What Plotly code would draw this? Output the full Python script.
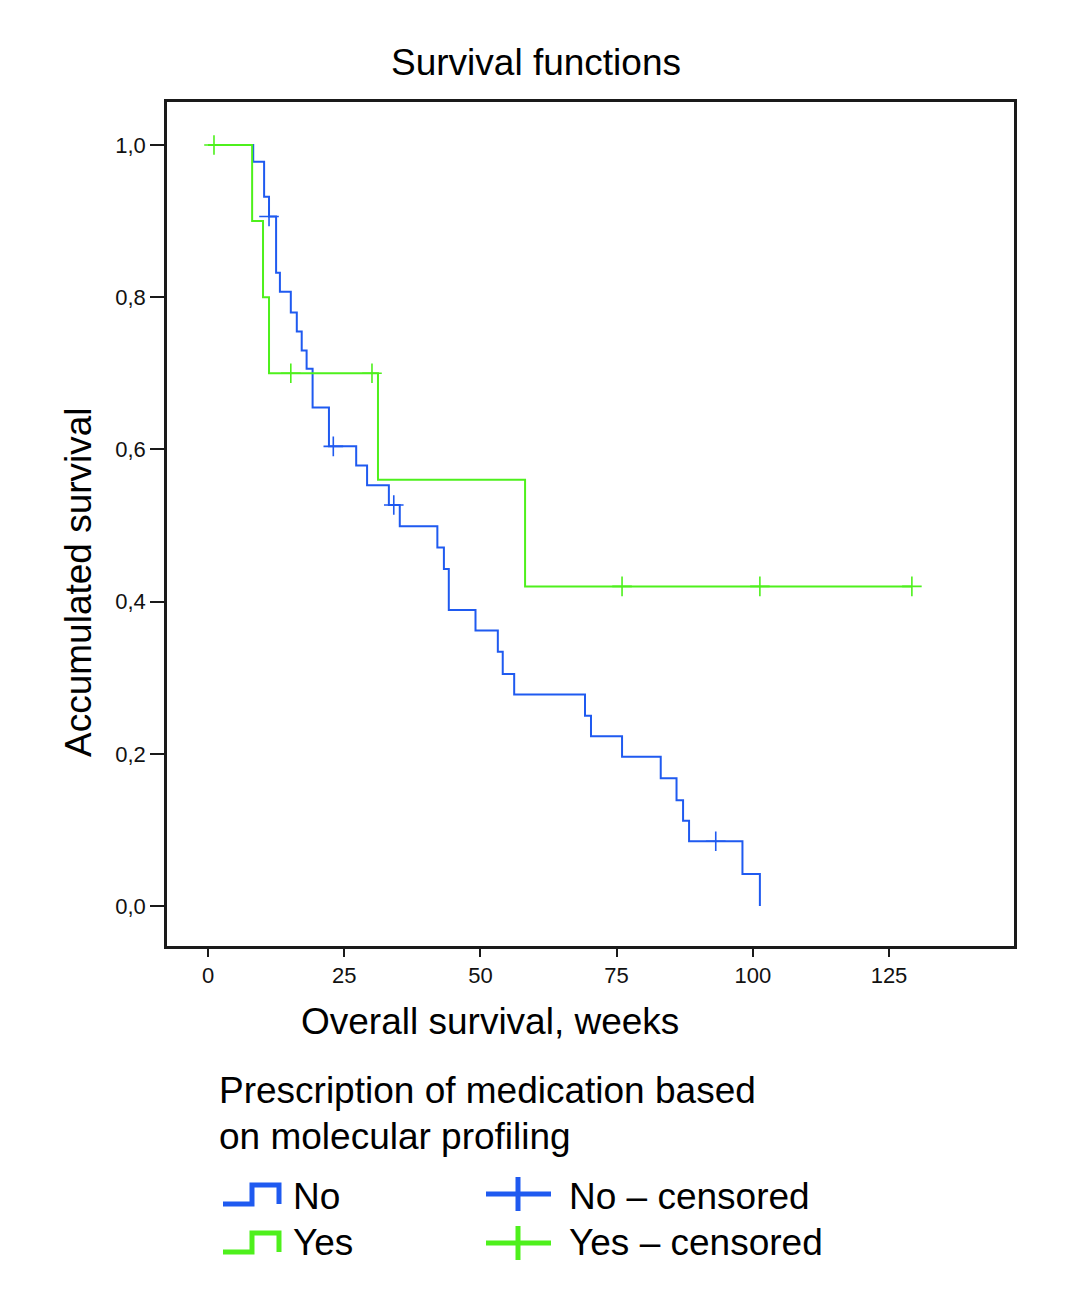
import plotly.graph_objects as go

# ---------------- data ----------------
no_time = [0, 8.3, 10.3, 11.2, 12.5, 13.2, 15.2, 16.3, 17.2, 18.1, 19.2, 22.2, 27.2, 29.2,
           33.2, 35.2, 42.1, 43.3, 44.2, 49.1, 53.2, 54.1, 56.2, 69.2, 70.3, 76.0, 83.1,
           86.0, 87.2, 88.3, 98.1, 101.3]
no_surv = [1.0, 0.978, 0.932, 0.906, 0.832, 0.807, 0.780, 0.755, 0.730, 0.706, 0.655, 0.604,
           0.579, 0.553, 0.527, 0.499, 0.471, 0.443, 0.389, 0.362, 0.334, 0.305, 0.278, 0.250,
           0.223, 0.196, 0.168, 0.139, 0.112, 0.085, 0.042, 0.0]
no_cens_time = [11.2, 23.0, 34.1, 93.2]
no_cens_surv = [0.906, 0.604, 0.527, 0.085]

yes_time = [0, 8.1, 10.1, 11.2, 31.2, 58.2, 129.2]
yes_surv = [1.0, 0.9, 0.8, 0.7, 0.56, 0.42, 0.42]
yes_cens_time = [1.1, 15.2, 30.1, 76.0, 101.3, 129.2]
yes_cens_surv = [1.0, 0.7, 0.7, 0.42, 0.42, 0.42]

x_ticks = [0, 25, 50, 75, 100, 125]
y_ticks = [0.0, 0.2, 0.4, 0.6, 0.8, 1.0]
y_tick_labels = ["0,0", "0,2", "0,4", "0,6", "0,8", "1,0"]

title_text = "Survival functions"
x_title = "Overall survival, weeks"
y_title = "Accumulated survival"
legend_title = ["Prescription of medication based", "on molecular profiling"]
legend_labels = ["No", "Yes", "No – censored", "Yes – censored"]

BLUE = "#1f5af0"
GREEN = "#4ef01c"
FONT = "Liberation Sans, Arial, sans-serif"

# ---------------- layout geometry (reference pixels) ----------------
OFF = 8  # page body margin in the browser
W, H = 1086 - 2 * OFF, 1302 - 2 * OFF
L, R, T, B = 167, 1014, 102, 946


def px(x):
    return (x - L) / (R - L)


def py(y):
    return (B - y) / (B - T)


fig = go.Figure()

fig.add_trace(go.Scatter(x=no_time, y=no_surv, mode="lines", line=dict(color=BLUE, width=2, shape="hv"),
                         showlegend=False, hoverinfo="skip"))
fig.add_trace(go.Scatter(x=no_cens_time, y=no_cens_surv, mode="markers",
                         marker=dict(symbol="cross-thin", size=14, color=BLUE, line=dict(width=1.6, color=BLUE)),
                         showlegend=False, hoverinfo="skip"))
fig.add_trace(go.Scatter(x=yes_time, y=yes_surv, mode="lines", line=dict(color=GREEN, width=2, shape="hv"),
                         showlegend=False, hoverinfo="skip"))
fig.add_trace(go.Scatter(x=yes_cens_time, y=yes_cens_surv, mode="markers",
                         marker=dict(symbol="cross-thin", size=14, color=GREEN, line=dict(width=1.6, color=GREEN)),
                         showlegend=False, hoverinfo="skip"))

x0_px, x_per = 208, 681 / 125
y1_px, y0_px = 145, 906
x_range = [(L - x0_px) / x_per, (R - x0_px) / x_per]
y_per = (y0_px - y1_px)
y_range = [(y0_px - B) / y_per, (y0_px - T) / y_per]

axis_common = dict(showline=True, linecolor="#1a1a1a", linewidth=2.5, mirror=True,
                   showgrid=False, zeroline=False, ticks="outside", tickcolor="#1a1a1a",
                   tickwidth=2, tickfont=dict(family=FONT, size=22, color="#111111"))

fig.update_xaxes(range=x_range, tickvals=x_ticks, ticklen=8, **axis_common)
fig.update_yaxes(range=y_range, tickvals=y_ticks, ticktext=y_tick_labels, ticklen=14,
                 ticklabelstandoff=0, **axis_common)

ann = []
big = dict(family=FONT, size=37, color="#000000")
ann.append(dict(text=title_text, x=px(536), y=py(63), xanchor="center", yanchor="middle"))
ann.append(dict(text=x_title, x=px(490), y=py(1022), xanchor="center", yanchor="middle"))
ann.append(dict(text=y_title, x=px(78), y=py(582), xanchor="center", yanchor="middle", textangle=-90))
ann.append(dict(text=legend_title[0], x=px(217), y=py(1090), xanchor="left", yanchor="middle"))
ann.append(dict(text=legend_title[1], x=px(217), y=py(1136), xanchor="left", yanchor="middle"))
ann.append(dict(text=legend_labels[0], x=px(291), y=py(1196), xanchor="left", yanchor="middle"))
ann.append(dict(text=legend_labels[1], x=px(291), y=py(1242), xanchor="left", yanchor="middle"))
ann.append(dict(text=legend_labels[2], x=px(567), y=py(1196), xanchor="left", yanchor="middle"))
ann.append(dict(text=legend_labels[3], x=px(567), y=py(1242), xanchor="left", yanchor="middle"))
for a in ann:
    a.update(xref="paper", yref="paper", showarrow=False, font=big)
fig.update_layout(annotations=ann)


def step_icon(ytop, ybot, color):
    pts = [(223, ybot), (252, ybot), (252, ytop), (279, ytop), (279, ybot)]
    path = "M " + " L ".join(f"{px(a):.5f},{py(b):.5f}" for a, b in pts)
    return dict(type="path", path=path, xref="paper", yref="paper",
                line=dict(color=color, width=5))


def cross_icon(yc, color):
    return [dict(type="line", xref="paper", yref="paper", x0=px(486), x1=px(551), y0=py(yc), y1=py(yc),
                 line=dict(color=color, width=5)),
            dict(type="line", xref="paper", yref="paper", x0=px(518), x1=px(518), y0=py(yc - 17), y1=py(yc + 17),
                 line=dict(color=color, width=5))]


shapes = [step_icon(1185, 1204, BLUE), step_icon(1233, 1252, GREEN)]
shapes += cross_icon(1194, BLUE) + cross_icon(1243, GREEN)
fig.update_layout(shapes=shapes)

fig.update_layout(width=W, height=H, autosize=False,
                  margin=dict(l=L - OFF, r=(1086 - OFF) - R, t=T - OFF, b=(1302 - OFF) - B, pad=0),
                  paper_bgcolor="white", plot_bgcolor="white",
                  font=dict(family=FONT))

fig.write_html("out.html")
